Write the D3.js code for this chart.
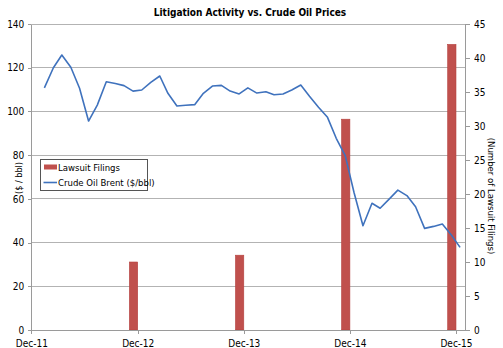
<!DOCTYPE html>
<html><head><meta charset="utf-8">
<script src="https://cdn.jsdelivr.net/npm/d3@7"></script>
<style>
body{margin:0;background:#fff;}
text{font-family:"DejaVu Sans Condensed","Liberation Sans",Arial,sans-serif;fill:#000;}
</style></head>
<body><svg id="c" width="503" height="348"></svg>
<script>
// ---- data ----
const oilMonths = ["2012-01","2012-02","2012-03","2012-04","2012-05","2012-06","2012-07","2012-08","2012-09","2012-10","2012-11","2012-12",
"2013-01","2013-02","2013-03","2013-04","2013-05","2013-06","2013-07","2013-08","2013-09","2013-10","2013-11","2013-12",
"2014-01","2014-02","2014-03","2014-04","2014-05","2014-06","2014-07","2014-08","2014-09","2014-10","2014-11","2014-12",
"2015-01","2015-02","2015-03","2015-04","2015-05","2015-06","2015-07","2015-08","2015-09","2015-10","2015-11","2015-12"];
const oilPrices = [110.8,120.0,125.8,120.2,110.6,95.6,102.9,113.6,112.8,111.8,109.3,109.8,
113.3,116.2,108.3,102.5,102.8,103.1,108.3,111.6,111.9,109.3,108.0,110.8,
108.4,109.0,107.6,108.0,109.8,112.1,106.9,101.9,97.3,87.7,79.8,63.0,
47.7,58.0,55.7,59.9,64.0,61.5,56.4,46.5,47.4,48.5,43.5,37.8];
const filingMonths = ["2012-12","2013-12","2014-12","2015-12"];
const filings = [10,11,31,42];
const xTickLabels = ["Dec-11","Dec-12","Dec-13","Dec-14","Dec-15"];
const leftTicks = [0,20,40,60,80,100,120,140];
const rightTicks = [0,5,10,15,20,25,30,35,40,45];
const title = "Litigation Activity vs. Crude Oil Prices";
const seriesNames = ["Lawsuit Filings","Crude Oil Brent ($/bbl)"];

// ---- layout ----
const svg = d3.select("#c");
const FF = "'DejaVu Sans Condensed','Liberation Sans',Arial,sans-serif";
const L = 31.3, R = 465, T = 24, B = 330;
const parse = d3.timeParse("%Y-%m");
const x = d3.scaleTime().domain([new Date(2011,11,1), new Date(2016,0,1)]).range([L,R]);
const yL = d3.scaleLinear().domain([0,140]).range([B,T]);
const yR = d3.scaleLinear().domain([0,45]).range([B,T]);
const gridC = "#b3b3b3", axisC = "#9a9a9a";

// gridlines
svg.append("g").selectAll("line").data(leftTicks).join("line")
  .attr("x1",L).attr("x2",R).attr("y1",d=>yL(d)).attr("y2",d=>yL(d))
  .attr("stroke",gridC).attr("stroke-width",1).attr("shape-rendering","crispEdges");

// bars
svg.append("g").selectAll("rect").data(filingMonths.map((m,i)=>({d:parse(m),v:filings[i]}))).join("rect")
  .attr("x",d=>x(d3.timeMonth.offset(d.d,-1))+0.4)
  .attr("width",d=>x(d.d)-x(d3.timeMonth.offset(d.d,-1))-0.4)
  .attr("y",d=>yR(d.v)).attr("height",d=>B-yR(d.v))
  .attr("fill","#c0504d").attr("stroke","#b5423f").attr("stroke-width",0.6);

// line
const pts = oilMonths.map((m,i)=>({d:d3.timeDay.offset(parse(m),14),v:oilPrices[i]}));
svg.append("path").datum(pts)
  .attr("d",d3.line().x(d=>x(d.d)).y(d=>yL(d.v)))
  .attr("fill","none").attr("stroke","#3f72bd").attr("stroke-width",1.6).attr("stroke-linejoin","round");

// axes
const xTickDates = xTickLabels.map((t,i)=>new Date(2011+i,11,1));
const xAxis = d3.axisBottom(x).tickValues(xTickDates).tickFormat((d,i)=>xTickLabels[i]).tickSize(4).tickSizeOuter(0);
const gx = svg.append("g").attr("transform",`translate(0,${B})`).call(xAxis);
const gl = svg.append("g").attr("transform",`translate(${L},0)`).call(d3.axisLeft(yL).tickValues(leftTicks).tickSize(3).tickPadding(4).tickSizeOuter(0));
const gr = svg.append("g").attr("transform",`translate(${R},0)`).call(d3.axisRight(yR).tickValues(rightTicks).tickSize(5).tickPadding(4).tickSizeOuter(0));
[gx,gl,gr].forEach(g=>{
  g.selectAll("path,line").attr("stroke",axisC).attr("shape-rendering","crispEdges");
  g.selectAll("text").attr("font-size","10px").attr("font-family",FF).attr("fill","#000");
});
gx.selectAll("text").attr("dy","0.95em");

// titles
svg.append("text").attr("x",250).attr("y",16).attr("text-anchor","middle")
  .attr("font-weight","bold").attr("font-size","10px").text(title);
svg.append("text").attr("transform","translate(22,178) rotate(-90)").attr("text-anchor","middle")
  .attr("font-size","9px").text("($ / bbl)");
svg.append("text").attr("transform","translate(488,196) rotate(90)").attr("text-anchor","middle")
  .attr("font-size","9.5px").text("(Number of Lawsuit Filings)");

// legend
const lg = svg.append("g");
lg.append("rect").attr("x",40.5).attr("y",159.5).attr("width",107).attr("height",31)
  .attr("fill","#fff").attr("stroke","#555").attr("stroke-width",1);
lg.append("rect").attr("x",44).attr("y",164.5).attr("width",13).attr("height",5).attr("fill","#c0504d");
lg.append("line").attr("x1",43.5).attr("x2",57).attr("y1",182.5).attr("y2",182.5).attr("stroke","#3f72bd").attr("stroke-width",1.6);
lg.append("text").attr("x",58).attr("y",170.5).attr("font-size","9.5px").text(seriesNames[0]);
lg.append("text").attr("x",58).attr("y",186).attr("font-size","9.5px").text(seriesNames[1]);
</script></body></html>
